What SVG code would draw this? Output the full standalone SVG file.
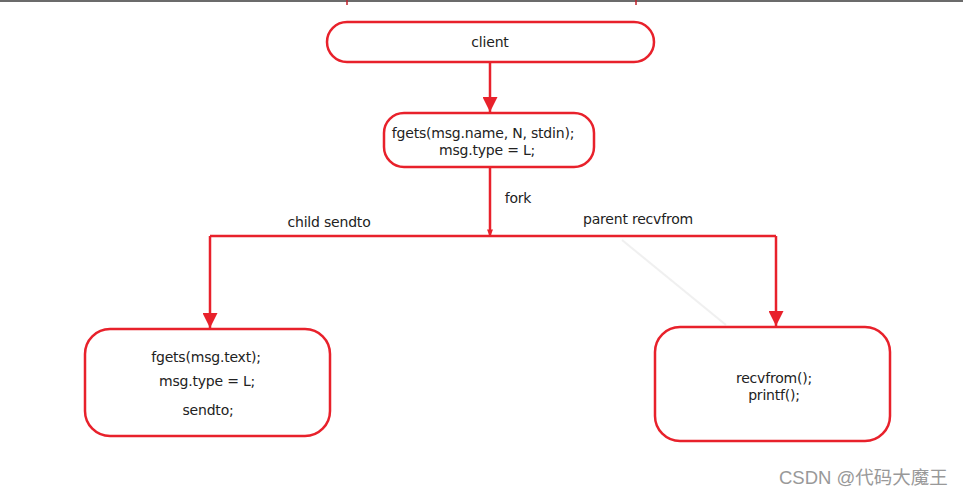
<svg xmlns="http://www.w3.org/2000/svg" width="963" height="496" viewBox="0 0 963 496">
<style>
.box{fill:#fff;stroke:#e8212b;stroke-width:2.5}
.ln{fill:none;stroke:#e8212b;stroke-width:2.5}
.t{font-family:"DejaVu Sans","Liberation Sans",sans-serif;font-size:14px;fill:#222;text-anchor:middle;letter-spacing:-0.2px}
.wm{font-family:"Liberation Sans","Noto Sans CJK SC",sans-serif;font-size:18.5px;fill:#999}
</style>
<defs>
<marker id="ah" viewBox="0 0 10 10" refX="10" refY="5" markerWidth="6.4" markerHeight="6" markerUnits="strokeWidth" orient="auto">
<path d="M0,0 L10,5 L0,10 z" fill="#e8212b"/>
</marker>
<marker id="ahs" viewBox="0 0 10 10" refX="10" refY="5" markerWidth="3.2" markerHeight="3" markerUnits="strokeWidth" orient="auto">
<path d="M0,1 L10,5 L0,9 z" fill="#e8212b"/>
</marker>
</defs>
<rect x="0" y="0" width="963" height="496" fill="#fff"/>
<rect x="0" y="0" width="963" height="2" fill="#6b6b6b"/>
<line x1="347" y1="0" x2="347" y2="5" stroke="#c0202a" stroke-width="1.5"/>
<line x1="636" y1="0" x2="636" y2="5" stroke="#c0202a" stroke-width="1.5"/>
<g id="connectors">
<line class="ln" x1="490" y1="63" x2="490" y2="112" marker-end="url(#ah)"/>
<line class="ln" x1="490" y1="168" x2="490" y2="237" marker-end="url(#ahs)"/>
<polyline class="ln" points="210,236 776,236"/>
<line class="ln" x1="210" y1="236" x2="210" y2="328" marker-end="url(#ah)"/>
<line class="ln" x1="776" y1="236" x2="776" y2="326" marker-end="url(#ah)"/>
<line x1="622" y1="240" x2="726" y2="325" stroke="#f0f0f0" stroke-width="2"/>
<text class="t" x="518" y="203">fork</text>
<text class="t" x="329" y="227">child sendto</text>
<text class="t" x="638" y="224">parent recvfrom</text>
</g>
<g id="client">
<rect class="box" x="327" y="22" width="327" height="40" rx="20"/>
<text class="t" x="490" y="47">client</text>
</g>
<g id="fgets-name">
<rect class="box" x="384" y="113" width="210" height="54" rx="20"/>
<text class="t" x="483" y="138">fgets(msg.name, N, stdin);</text>
<text class="t" x="487" y="155">msg.type = L;</text>
</g>
<g id="child">
<rect class="box" x="85" y="329" width="245" height="107" rx="25"/>
<text class="t" x="206" y="362">fgets(msg.text);</text>
<text class="t" x="207" y="386">msg.type = L;</text>
<text class="t" x="208" y="415">sendto;</text>
</g>
<g id="parent">
<rect class="box" x="655" y="327" width="235" height="114" rx="25"/>
<text class="t" x="774" y="383">recvfrom();</text>
<text class="t" x="774" y="400">printf();</text>
</g>
<text class="wm" x="779" y="484">CSDN @代码大魔王</text>
</svg>
